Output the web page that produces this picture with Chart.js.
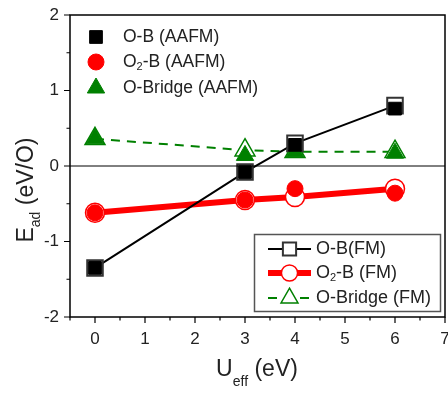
<!DOCTYPE html>
<html>
<head>
<meta charset="utf-8">
<script src="https://cdn.jsdelivr.net/npm/chart.js@4/dist/chart.umd.min.js"></script>
<style>
  html, body { margin: 0; padding: 0; background: #fff; }
  #wrap { width: 448px; height: 398px; }
</style>
</head>
<body>
<div id="wrap"><canvas id="chart"></canvas></div>
<script>
// U_eff values (eV) and adsorption energies (eV/O)
const uValues = [0, 3, 4, 6];
const obAAFM = [-1.35, -0.08, 0.28, 0.76];
const o2bAAFM = [-0.62, -0.45, -0.30, -0.36];
const bridgeAAFM = [0.36, 0.14, 0.19, 0.17];
const obFM = [-1.35, -0.08, 0.30, 0.80];
const o2bFM = [-0.62, -0.45, -0.41, -0.30];
const bridgeFM = [0.36, 0.21, 0.19, 0.19];

const xTicks = [0, 1, 2, 3, 4, 5, 6, 7];
const yTicks = [-2, -1, 0, 1, 2];

const FONT = "'Liberation Sans', Arial, sans-serif";
const GREEN = "#008000";
const RED = "#ff0000";

const pts = (ys) => uValues.map((u, i) => ({ x: u, y: ys[i] }));

// text with _{...} subscripts
function drawRich(ctx, text, x, y, size, sub) {
  const parts = text.split(/(_\{[^}]*\})/).filter(Boolean);
  let cx = x;
  for (const p of parts) {
    if (p.startsWith("_{")) {
      const s = p.slice(2, -1);
      ctx.font = Math.round(size * 0.62) + "px " + FONT;
      ctx.fillText(s, cx, y + size * (sub || 0.3));
      cx += ctx.measureText(s).width;
    } else {
      ctx.font = size + "px " + FONT;
      ctx.fillText(p, cx, y);
      cx += ctx.measureText(p).width;
    }
  }
  return cx - x;
}
function richWidth(ctx, text, size) {
  const parts = text.split(/(_\{[^}]*\})/).filter(Boolean);
  let w = 0;
  for (const p of parts) {
    if (p.startsWith("_{")) {
      ctx.font = Math.round(size * 0.62) + "px " + FONT;
      w += ctx.measureText(p.slice(2, -1)).width;
    } else {
      ctx.font = size + "px " + FONT;
      w += ctx.measureText(p).width;
    }
  }
  return w;
}

const frame = {
  id: "frame",
  afterDraw(chart) {
    const { ctx, chartArea: a, scales } = chart;
    const xs = scales.x, ys = scales.y;
    ctx.save();
    ctx.strokeStyle = "#000";
    ctx.lineWidth = 1.5;
    ctx.strokeRect(a.left, a.top, a.right - a.left, a.bottom - a.top);

    // zero line
    ctx.lineWidth = 1;
    const y0 = ys.getPixelForValue(0);
    ctx.beginPath();
    ctx.moveTo(a.left, y0);
    ctx.lineTo(a.right, y0);
    ctx.stroke();

    // outward ticks, major and minor
    ctx.lineWidth = 1.2;
    ctx.beginPath();
    for (let v = -0.5; v <= 7.001; v += 0.5) {
      const px = xs.getPixelForValue(v);
      const len = Number.isInteger(v) ? 6 : 3.5;
      ctx.moveTo(px, a.bottom);
      ctx.lineTo(px, a.bottom + len);
    }
    for (let v = -2; v <= 2.001; v += 0.5) {
      const py = ys.getPixelForValue(v);
      const len = Number.isInteger(v) ? 6 : 3.5;
      ctx.moveTo(a.left, py);
      ctx.lineTo(a.left - len, py);
    }
    ctx.stroke();

    // axis titles
    ctx.fillStyle = "#222";
    ctx.textBaseline = "alphabetic";
    const xt = "U_{eff} (eV)";
    const xw = richWidth(ctx, xt, 23);
    drawRich(ctx, xt, 257 - xw / 2, 376, 23, 0.45);

    ctx.save();
    ctx.translate(33, 190);
    ctx.rotate(-Math.PI / 2);
    const yt = "E_{ad} (eV/O)";
    const yw = richWidth(ctx, yt, 23);
    drawRich(ctx, yt, -yw / 2, 0, 23, 0.3);
    ctx.restore();

    // legends
    const H = Chart.helpers;
    const ds = chart.data.datasets;
    ctx.textBaseline = "middle";
    // top-left: symbols only
    const tl = [0, 1, 2];
    const tlY = [37, 62, 88];
    tl.forEach((i, k) => {
      const d = ds[i];
      ctx.fillStyle = d.pointBackgroundColor;
      ctx.strokeStyle = d.pointBorderColor;
      ctx.lineWidth = d.pointBorderWidth;
      H.drawPoint(ctx, { pointStyle: d.pointStyle, radius: d.pointRadius, borderWidth: d.pointBorderWidth }, 96, tlY[k]);
      ctx.fillStyle = "#222";
      drawRich(ctx, d.label, 123, tlY[k], 17.5);
    });

    // bottom-right: boxed, line + symbol
    ctx.strokeStyle = "#555";
    ctx.lineWidth = 1.5;
    ctx.strokeRect(254.5, 234.5, 186, 77);
    const br = [3, 4, 5];
    const brY = [249, 273, 298];
    br.forEach((i, k) => {
      const d = ds[i];
      const y = brY[k];
      ctx.save();
      ctx.strokeStyle = d.borderColor;
      ctx.lineWidth = d.borderWidth;
      ctx.setLineDash(d.borderDash || []);
      ctx.beginPath();
      ctx.moveTo(268, y);
      ctx.lineTo(311, y);
      ctx.stroke();
      ctx.restore();
      ctx.fillStyle = d.pointBackgroundColor;
      ctx.strokeStyle = d.pointBorderColor;
      ctx.lineWidth = d.pointBorderWidth;
      H.drawPoint(ctx, { pointStyle: d.pointStyle, radius: d.pointRadius * 0.85, borderWidth: d.pointBorderWidth }, 289.5, y);
      ctx.fillStyle = "#222";
      drawRich(ctx, d.label, 316, y, 18);
    });
    ctx.restore();
  }
};

new Chart(document.getElementById("chart"), {
  type: "line",
  data: {
    datasets: [
      {
        label: "O-B (AAFM)", data: pts(obAAFM), order: 0, showLine: false,
        pointStyle: "rect", pointRadius: 9, pointBackgroundColor: "#000",
        pointBorderColor: "#000", pointBorderWidth: 1, borderColor: "#000"
      },
      {
        label: "O_{2}-B (AAFM)", data: pts(o2bAAFM), order: 0, showLine: false,
        pointStyle: "circle", pointRadius: 8, pointBackgroundColor: RED,
        pointBorderColor: RED, pointBorderWidth: 1, borderColor: RED
      },
      {
        label: "O-Bridge (AAFM)", data: pts(bridgeAAFM), order: 0, showLine: false,
        pointStyle: "triangle", pointRadius: 10, pointBackgroundColor: GREEN,
        pointBorderColor: GREEN, pointBorderWidth: 1, borderColor: GREEN
      },
      {
        label: "O-B(FM)", data: pts(obFM), order: 1, borderColor: "#000", borderWidth: 2,
        pointStyle: "rect", pointRadius: 11, pointBackgroundColor: "#fff",
        pointBorderColor: "#333", pointBorderWidth: 2
      },
      {
        label: "O_{2}-B (FM)", data: pts(o2bFM), order: 1, borderColor: RED, borderWidth: 6,
        pointStyle: "circle", pointRadius: 9.5, pointBackgroundColor: "#fff",
        pointBorderColor: RED, pointBorderWidth: 1.5
      },
      {
        label: "O-Bridge (FM)", data: pts(bridgeFM), order: 1, borderColor: GREEN, borderWidth: 2,
        borderDash: [9, 7],
        pointStyle: "triangle", pointRadius: 11.5, pointBackgroundColor: "#fff",
        pointBorderColor: GREEN, pointBorderWidth: 1.5
      }
    ]
  },
  options: {
    responsive: true,
    maintainAspectRatio: false,
    animation: false,
    layout: { autoPadding: false, padding: { top: 15, right: 3, left: 0, bottom: 0 } },
    plugins: { legend: { display: false }, tooltip: { enabled: false } },
    scales: {
      x: {
        type: "linear", min: -0.5, max: 7,
        afterBuildTicks: (s) => { s.ticks = xTicks.map(v => ({ value: v })); },
        afterFit: (s) => { s.height = 81; s.paddingLeft = 0; s.paddingRight = 0; },
        grid: { display: false }, border: { display: false },
        ticks: { color: "#222", padding: 4, font: { family: FONT, size: 17 } }
      },
      y: {
        type: "linear", min: -2, max: 2,
        afterBuildTicks: (s) => { s.ticks = yTicks.map(v => ({ value: v })); },
        afterFit: (s) => { s.width = 70; s.paddingTop = 0; s.paddingBottom = 0; },
        grid: { display: false }, border: { display: false },
        ticks: { color: "#222", padding: 3, font: { family: FONT, size: 17 } }
      }
    }
  },
  plugins: [frame]
});
</script>
</body>
</html>
